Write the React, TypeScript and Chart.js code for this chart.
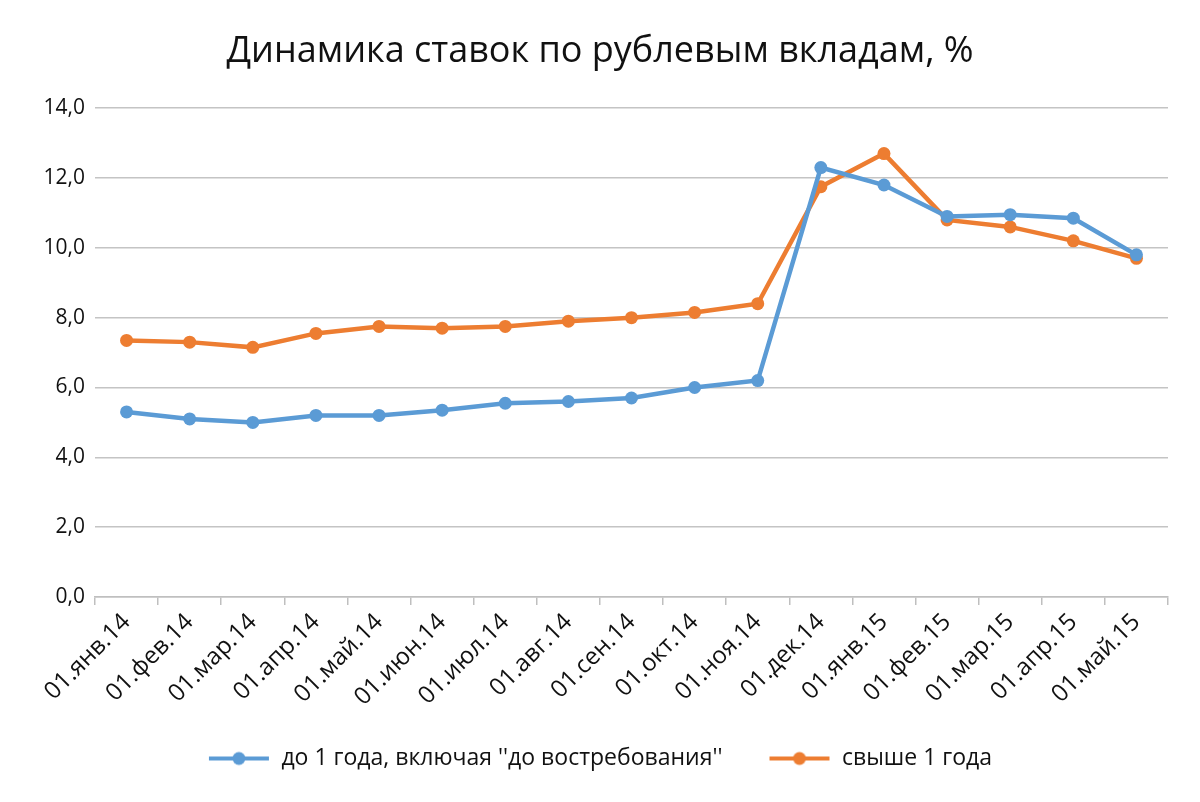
import React, { useEffect, useRef } from "react";
import { Chart, registerables } from "chart.js";

Chart.register(...registerables);

const categories = [
  "01.янв.14", "01.фев.14", "01.мар.14", "01.апр.14", "01.май.14", "01.июн.14",
  "01.июл.14", "01.авг.14", "01.сен.14", "01.окт.14", "01.ноя.14", "01.дек.14",
  "01.янв.15", "01.фев.15", "01.мар.15", "01.апр.15", "01.май.15",
];
const upTo1Year = [5.3, 5.1, 5.0, 5.2, 5.2, 5.35, 5.55, 5.6, 5.7, 6.0, 6.2, 12.3, 11.8, 10.9, 10.95, 10.85, 9.8];
const over1Year = [7.35, 7.3, 7.15, 7.55, 7.75, 7.7, 7.75, 7.9, 8.0, 8.15, 8.4, 11.75, 12.7, 10.8, 10.6, 10.2, 9.7];
const seriesNames = ["до 1 года, включая ''до востребования''", "свыше 1 года"];
const yTicks = [0, 2, 4, 6, 8, 10, 12, 14];
const titleText = "Динамика ставок по рублевым вкладам, %";

const BLUE = "#5B9BD5";
const ORANGE = "#ED7D31";
const FONT = "'Open Sans', 'DejaVu Sans', sans-serif";

function legendMarker(color: string): HTMLCanvasElement {
  const c = document.createElement("canvas");
  c.width = 62;
  c.height = 16;
  const ctx = c.getContext("2d")!;
  ctx.strokeStyle = color;
  ctx.lineWidth = 4;
  ctx.beginPath();
  ctx.moveTo(1, 8);
  ctx.lineTo(61, 8);
  ctx.stroke();
  ctx.fillStyle = color;
  ctx.beginPath();
  ctx.arc(31, 8, 6.5, 0, Math.PI * 2);
  ctx.fill();
  return c;
}

// let the rotated x labels draw below the axis box without being clipped
const unclipXLabels = {
  id: "unclipXLabels",
  afterLayout(chart: any) {
    const x = chart.scales.x;
    if (x) x.bottom = chart.height;
  },
};

export default function App() {
  const ref = useRef<HTMLCanvasElement>(null);
  useEffect(() => {
    if (!ref.current) return;
    const markers = [legendMarker(BLUE), legendMarker(ORANGE)];
    const chart = new Chart(ref.current, {
      type: "line",
      data: {
        labels: categories,
        datasets: [
          {
            label: seriesNames[0],
            data: upTo1Year,
            borderColor: BLUE,
            backgroundColor: BLUE,
            borderWidth: 4.5,
            pointRadius: 6.5,
            pointBorderWidth: 0,
            pointBackgroundColor: BLUE,
            tension: 0,
          },
          {
            label: seriesNames[1],
            data: over1Year,
            borderColor: ORANGE,
            backgroundColor: ORANGE,
            borderWidth: 4.5,
            pointRadius: 6.5,
            pointBorderWidth: 0,
            pointBackgroundColor: ORANGE,
            tension: 0,
          },
        ],
      },
      plugins: [unclipXLabels],
      options: {
        animation: false,
        responsive: false,
        maintainAspectRatio: false,
        layout: { padding: { left: 32, right: 32, top: 0, bottom: 22 } },
        plugins: {
          title: {
            display: true,
            text: titleText,
            color: "#111",
            font: { family: FONT, size: 36, weight: "normal" },
            padding: { top: 30, bottom: 35 },
          },
          legend: {
            position: "bottom",
            labels: {
              color: "#111",
              font: { family: FONT, size: 23 },
              usePointStyle: true,
              pointStyleWidth: 62,
              padding: 46,
              generateLabels: (ch: any) => {
                const items = Chart.defaults.plugins.legend.labels.generateLabels(ch);
                return items.map((it: any, i: number) => ({ ...it, pointStyle: markers[i] }));
              },
            },
          },
          tooltip: { enabled: false },
        },
        scales: {
          x: {
            offset: true,
            afterFit: (s: any) => { s.height = 104; },
            grid: {
              offset: true,
              drawOnChartArea: false,
              drawTicks: true,
              tickLength: 8,
              color: "#bfbfbf",
              lineWidth: 1.5,
            },
            border: { display: true, color: "#bfbfbf", width: 1.5 },
            ticks: {
              color: "#111",
              font: { family: FONT, size: 24 },
              maxRotation: 45,
              minRotation: 45,
              autoSkip: false,
              padding: 3,
            },
          },
          y: {
            min: 0,
            max: 14,
            afterFit: (s: any) => { s.width = 63; },
            afterBuildTicks: (s: any) => { s.ticks = yTicks.map((v) => ({ value: v })); },
            grid: { color: "#c4c4c4", lineWidth: 1.5, drawTicks: false },
            border: { display: false },
            ticks: {
              color: "#111",
              font: { family: FONT, size: 21 },
              padding: 10,
              callback: (v: any) => Number(v).toFixed(1).replace(".", ","),
            },
          },
        },
      },
    });
    return () => chart.destroy();
  }, []);
  return (
    <div style={{ position: "fixed", left: 0, top: 0, width: 1200, height: 802, background: "#fff" }}>
      <canvas ref={ref} width={1200} height={802} style={{ width: 1200, height: 802 }} />
    </div>
  );
}
